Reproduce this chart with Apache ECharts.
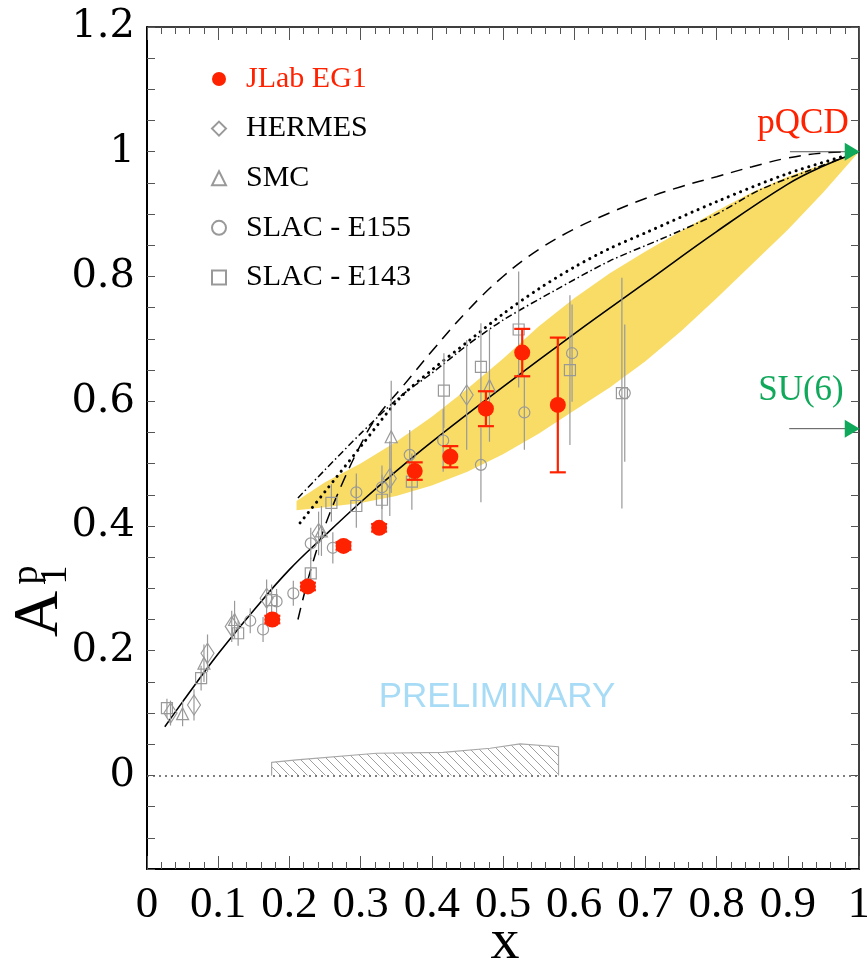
<!DOCTYPE html>
<html><head><meta charset="utf-8">
<script src="https://cdn.jsdelivr.net/npm/echarts@6/dist/echarts.min.js"></script>
<style>html,body{margin:0;padding:0;background:#fff}#c{width:867px;height:963px}</style>
</head><body><div id="c"></div>
<script>
// ---------- data: [x, A1p, error] ----------
const jlabEG1 = [[0.176,0.250,0.006],[0.226,0.303,0.006],[0.276,0.368,0.006],[0.326,0.397,0.006],[0.376,0.488,0.014],[0.426,0.511,0.017],[0.476,0.588,0.028],[0.527,0.678,0.038],[0.577,0.594,0.108]];
const hermes = [[0.033,0.100,0.02],[0.066,0.113,0.025],[0.085,0.196,0.03],[0.119,0.239,0.025],[0.168,0.284,0.03],[0.241,0.388,0.035],[0.341,0.476,0.06],[0.449,0.610,0.088]];
const smc = [[0.050,0.099,0.02],[0.080,0.180,0.03],[0.123,0.250,0.03],[0.245,0.392,0.04],[0.343,0.543,0.09],[0.481,0.625,0.09]];
const slacE155 = [[0.145,0.248,0.02],[0.163,0.234,0.02],[0.182,0.279,0.02],[0.2055,0.292,0.02],[0.230,0.372,0.025],[0.261,0.365,0.025],[0.294,0.454,0.03],[0.330,0.462,0.035],[0.369,0.514,0.04],[0.416,0.537,0.05],[0.469,0.498,0.06],[0.530,0.582,0.06],[0.597,0.677,0.078],[0.671,0.613,0.11]];
const slacE143 = [[0.028,0.108,0.015],[0.076,0.156,0.02],[0.128,0.228,0.02],[0.175,0.281,0.025],[0.230,0.324,0.025],[0.259,0.437,0.03],[0.294,0.432,0.035],[0.330,0.442,0.04],[0.372,0.471,0.045],[0.417,0.617,0.06],[0.469,0.655,0.07],[0.522,0.715,0.093],[0.594,0.650,0.12],[0.667,0.613,0.185]];

// curves [x, y]
const solidCurve = [[0.025,0.078],[0.05,0.118],[0.1,0.195],[0.15,0.265],[0.2,0.33],[0.25,0.385],[0.3,0.438],[0.35,0.488],[0.4,0.535],[0.5,0.623],[0.6,0.708],[0.7,0.79],[0.8,0.872],[0.9,0.948],[0.95,0.977],[1.0,1.0]];
const dashedCurve = [[0.212,0.25],[0.23,0.33],[0.25,0.40],[0.275,0.47],[0.3,0.53],[0.32,0.57],[0.36,0.625],[0.4,0.68],[0.45,0.745],[0.5,0.80],[0.55,0.843],[0.6,0.876],[0.65,0.902],[0.7,0.925],[0.75,0.944],[0.8,0.96],[0.85,0.976],[0.9,0.99],[0.95,0.998],[1.0,1.0]];
const dottedCurve = [[0.215,0.405],[0.25,0.455],[0.3,0.527],[0.355,0.605],[0.4,0.65],[0.45,0.695],[0.5,0.74],[0.55,0.78],[0.6,0.815],[0.65,0.845],[0.7,0.87],[0.8,0.92],[0.9,0.965],[1.0,1.0]];
const dashDotCurve = [[0.212,0.445],[0.25,0.49],[0.3,0.548],[0.355,0.607],[0.4,0.645],[0.45,0.69],[0.5,0.73],[0.575,0.779],[0.65,0.825],[0.72,0.859],[0.8,0.9],[0.861,0.939],[0.93,0.97],[1.0,1.0]];

// yellow band
const bandX    = [0.21, 0.25, 0.30, 0.35, 0.40, 0.45, 0.50, 0.55, 0.60, 0.65, 0.70, 0.75, 0.80, 0.85, 0.90, 0.95, 1.00];
const bandHigh = [0.44, 0.47, 0.50, 0.535,0.575,0.62, 0.668,0.72, 0.765,0.805,0.84, 0.873,0.905,0.935,0.96, 0.98, 1.00];
const bandLow  = [0.425,0.43, 0.437,0.448,0.465,0.487,0.515,0.548,0.585,0.622,0.664,0.712,0.765,0.82, 0.875,0.935,1.00];

// systematic error (hatched)
const systErr = [[0.175,0],[0.175,0.021],[0.21,0.025],[0.3225,0.0356],[0.416,0.037],[0.482,0.0436],[0.524,0.0505],[0.578,0.046],[0.578,0]];

// predictions
const pqcdLine = [[0.903,1.0],[1.0,1.0]];
const su6Line  = [[0.902,0.556],[1.0,0.556]];
const arrowTips = [[0.9905,1.0],[0.9905,0.556]];

const xTickLabels = ['0','0.1','0.2','0.3','0.4','0.5','0.6','0.7','0.8','0.9','1'];
const yTickLabels = ['0','0.2','0.4','0.6','0.8','1','1.2'];

// ---------- styling ----------
const RED = '#ff2200', GREEN = '#10a85a', GREY = '#999999', YELLOW = '#f9dc66';
const SERIF = '"Liberation Serif", "Times New Roman", serif';

const pc = document.createElement('canvas'); pc.width = 9; pc.height = 9;
const g = pc.getContext('2d'); g.strokeStyle = '#a0a0a0'; g.lineWidth = 1;
g.beginPath(); g.moveTo(0,0); g.lineTo(9,9); g.moveTo(-1,8); g.lineTo(1,10); g.moveTo(8,-1); g.lineTo(10,1); g.stroke();

function errBar(color, cap, width) {
  return function (params, api) {
    const x = api.value(0), y = api.value(1), e = api.value(2);
    const p1 = api.coord([x, y - e]), p2 = api.coord([x, y + e]);
    const ch = [{type:'line', shape:{x1:p1[0], y1:p1[1], x2:p2[0], y2:p2[1]}, style:{stroke:color, lineWidth:width}}];
    if (cap) {
      ch.push({type:'line', shape:{x1:p1[0]-cap, y1:p1[1], x2:p1[0]+cap, y2:p1[1]}, style:{stroke:color, lineWidth:width}});
      ch.push({type:'line', shape:{x1:p2[0]-cap, y1:p2[1], x2:p2[0]+cap, y2:p2[1]}, style:{stroke:color, lineWidth:width}});
    }
    return {type:'group', children: ch};
  };
}
function errSeries(name, data, color, cap, width) {
  return {type:'custom', name: name, data: data, encode:{x:0, y:1}, renderItem: errBar(color, cap, width), silent:true, z:3};
}
function hollow(name, data, symbol, size) {
  return {type:'scatter', name:name, data:data, symbol:symbol, symbolSize:size,
    itemStyle:{color:'rgba(255,255,255,0)', borderColor:GREY, borderWidth:1.2, opacity:1}, z:4, silent:true};
}
function curve(data, type, width, cap, smooth) {
  return {type:'line', data:data, showSymbol:false, symbol:'none', smooth:smooth||0.3, silent:true, z:2,
    lineStyle:{color:'#000', width:width, type:type, cap:cap||'butt'}};
}

const option = {
  animation:false,
  backgroundColor:'#fff',
  grid:{left:147, right:8, top:27, bottom:94, outerBoundsMode:'none', containLabel:false},
  legend:{
    orient:'vertical', left:206, top:59, itemGap:19.6, itemWidth:14, itemHeight:14,
    textStyle:{fontFamily:SERIF, fontSize:30, color:'#000', padding:[0,0,0,15]},
    data:[{name:'JLab EG1', textStyle:{color:RED}}, 'HERMES', 'SMC', 'SLAC - E155', 'SLAC - E143']
  },
  xAxis:[{
    type:'value', min:0, max:1, interval:0.1, position:'bottom',
    axisLine:{onZero:false, lineStyle:{color:'#000', width:2}},
    axisTick:{inside:true, length:13, lineStyle:{color:'#555'}},
    minorTick:{show:true, splitNumber:5, length:7, lineStyle:{color:'#555'}},
    splitLine:{show:false},
    axisLabel:{margin:14, fontFamily:SERIF, fontSize:45, color:'#000',
      formatter:function(v){ return xTickLabels[Math.round(v*10)]; }}
  },{
    type:'value', min:0, max:1, interval:0.1, position:'top',
    axisLine:{onZero:false, lineStyle:{color:'#000', width:1.5}},
    axisTick:{inside:true, length:13, lineStyle:{color:'#555'}},
    minorTick:{show:true, splitNumber:5, length:7, lineStyle:{color:'#555'}},
    splitLine:{show:false}, axisLabel:{show:false}
  }],
  yAxis:[{
    type:'value', min:-0.15, max:1.2, interval:0.05, position:'left',
    axisLine:{onZero:false, lineStyle:{color:'#000', width:2}},
    axisTick:{inside:true, length:8, lineStyle:{color:'#555'}},
    splitLine:{show:false},
    axisLabel:{margin:12, fontFamily:'"DejaVu Serif", serif', fontSize:40, color:'#000',
      formatter:function(v){
        const k = Math.round(v*5);
        return Math.abs(v*5 - k) < 1e-6 ? yTickLabels[k] : '';
      }}
  },{
    type:'value', min:-0.15, max:1.2, interval:0.05, position:'right',
    axisLine:{onZero:false, lineStyle:{color:'#000', width:1.5}},
    axisTick:{inside:true, length:8, lineStyle:{color:'#555'}},
    splitLine:{show:false}, axisLabel:{show:false}
  }],
  graphic:[
    {type:'text', x:505, y:943, style:{text:'x', fontFamily:SERIF, fontSize:58, fill:'#000', align:'center', verticalAlign:'middle'}},
    {type:'text', x:40, y:614, rotation:Math.PI/2, style:{text:'A', fontFamily:SERIF, fontSize:64, fill:'#000', align:'center', verticalAlign:'middle'}},
    {type:'text', x:27, y:575, rotation:Math.PI/2, style:{text:'p', fontFamily:SERIF, fontSize:38, fill:'#000', align:'center', verticalAlign:'middle'}},
    {type:'text', x:56, y:575, rotation:Math.PI/2, style:{text:'1', fontFamily:SERIF, fontSize:38, fill:'#000', align:'center', verticalAlign:'middle'}},
    {type:'text', x:803, y:124, style:{text:'pQCD', fontFamily:SERIF, fontSize:35, fill:RED, align:'center', verticalAlign:'middle'}},
    {type:'text', x:801, y:391, style:{text:'SU(6)', fontFamily:SERIF, fontSize:35, fill:GREEN, align:'center', verticalAlign:'middle'}},
    {type:'text', x:497, y:697, style:{text:'PRELIMINARY', fontFamily:'"Liberation Sans", Arial, sans-serif', fontSize:35, fill:'#a8dcf6', align:'center', verticalAlign:'middle'}}
  ],
  series:[
    {type:'custom', name:'band', data:[[0.5,0.5]], encode:{x:0,y:1}, silent:true, z:1,
      renderItem:function(params, api){
        const pts = [];
        for (let i=0;i<bandX.length;i++) pts.push(api.coord([bandX[i], bandHigh[i]]));
        for (let i=bandX.length-1;i>=0;i--) pts.push(api.coord([bandX[i], bandLow[i]]));
        return {type:'polygon', shape:{points:pts}, style:{fill:YELLOW, stroke:'none'}};
      }},
    {type:'line', data:systErr, showSymbol:false, symbol:'none', silent:true, z:1,
      lineStyle:{color:'#a8a8a8', width:1.2},
      areaStyle:{color:{image:pc, repeat:'repeat'}, opacity:1},
      markLine:{symbol:'none', silent:true, label:{show:false}, animation:false,
        lineStyle:{type:[2,4], color:'#555', width:1.5}, data:[{yAxis:0}]}},
    curve(solidCurve, 'solid', 1.6, 'butt', 0.4),
    curve(dashedCurve, [12,8], 1.5, 'butt', 0.4),
    curve(dottedCurve, [0.1,6.5], 3, 'round', 0.3),
    curve(dashDotCurve, [7,3,1.5,3], 1.5, 'butt', 0.3),
    {type:'line', data:pqcdLine, showSymbol:false, symbol:'none', silent:true, z:2, lineStyle:{color:'#555', width:1}},
    {type:'line', data:su6Line, showSymbol:false, symbol:'none', silent:true, z:2, lineStyle:{color:'#555', width:1}},
    errSeries('e1', hermes, GREY, 0, 1.2),
    errSeries('e2', smc, GREY, 0, 1.2),
    errSeries('e3', slacE155, GREY, 0, 1.2),
    errSeries('e4', slacE143, GREY, 0, 1.2),
    hollow('HERMES', hermes, 'diamond', [13,20]),
    hollow('SMC', smc, 'triangle', [12,12]),
    hollow('SLAC - E155', slacE155, 'circle', 11),
    hollow('SLAC - E143', slacE143, 'rect', 11),
    {type:'custom', name:'e5', data:jlabEG1, encode:{x:0,y:1}, renderItem:errBar(RED, 8, 2.2), silent:true, z:5},
    {type:'scatter', name:'JLab EG1', data:jlabEG1, symbol:'circle', symbolSize:16, itemStyle:{color:RED, opacity:1}, z:6, silent:true},
    {type:'scatter', name:'arrows', data:arrowTips, symbol:'triangle', symbolSize:[18,15], symbolRotate:-90, itemStyle:{color:GREEN, opacity:1}, z:6, silent:true}
  ]
};
const chart = echarts.init(document.getElementById('c'));
chart.setOption(option);
</script>
</body></html>
